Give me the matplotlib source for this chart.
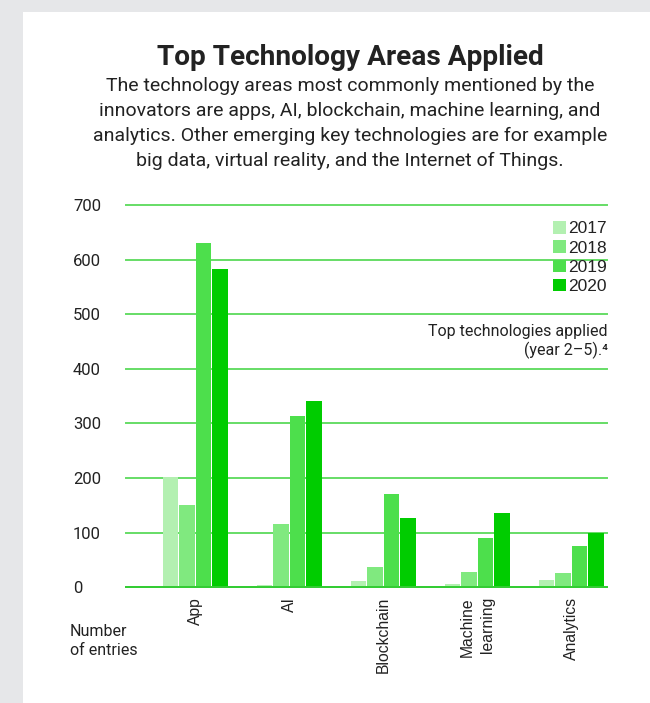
import numpy as np
import matplotlib.pyplot as plt
from matplotlib.patches import Rectangle

plt.rcParams['font.family'] = ['Roboto', 'DejaVu Sans']

categories = ['App', 'AI', 'Blockchain', 'Machine\nlearning', 'Analytics']
years = ['2017', '2018', '2019', '2020']
entries_2017 = [202, 4, 12, 6, 13]
entries_2018 = [150, 115, 37, 28, 26]
entries_2019 = [630, 313, 171, 90, 76]
entries_2020 = [582, 342, 126, 136, 99]
series = [entries_2017, entries_2018, entries_2019, entries_2020]
colors = ['#b3f0b1', '#80e97f', '#4ddf4c', '#00cc00']

title = 'Top Technology Areas Applied'
subtitle = ['The technology areas most commonly mentioned by the',
            'innovators are apps, AI, blockchain, machine learning, and',
            'analytics. Other emerging key technologies are for example',
            'big data, virtual reality, and the Internet of Things.']
note = ['Top technologies applied', '(year 2\u20135).\u2074']

W, H = 650, 703
fig = plt.figure(figsize=(W / 100, H / 100), dpi=100)
fig.patch.set_facecolor('#e6e7e9')
# white card behind everything
fig.patches.append(Rectangle((23 / W, 0), 1, (H - 12) / H, transform=fig.transFigure,
                             facecolor='white', edgecolor='none', zorder=-5))

txt = '#222222'
fig.text(350 / W, 1 - 65 / H, title, ha='center', va='baseline',
         fontsize=20.2, fontweight='bold', color=txt)
for i, line in enumerate(subtitle):
    fig.text(350 / W, 1 - (91 + 25 * i) / H, line, ha='center', va='baseline',
             fontsize=14.0, color=txt)

ax = fig.add_axes([126 / W, 115.7 / H, 481 / W, 382.3 / H])
ax.set_facecolor('white')
x = np.arange(len(categories))
step, width = 0.1766, 0.163
for i, (vals, c, yr) in enumerate(zip(series, colors, years)):
    ax.bar(x + (i - 1.5) * step, vals, width=width, color=c, label=yr, zorder=2)

ax.set_xlim(-0.736, 4.381)
ax.set_ylim(0, 700)
ax.set_yticks(range(0, 701, 100))
ax.grid(axis='y', color='#66dd66', linewidth=1.4)
ax.set_axisbelow(True)
for gl in ax.get_ygridlines():
    gl.set_clip_on(False)
for s in ['top', 'right', 'left']:
    ax.spines[s].set_visible(False)
ax.spines['bottom'].set_color('#33cc33')
ax.spines['bottom'].set_linewidth(1.4)

ax.tick_params(axis='y', length=0, pad=38.2, labelsize=12, labelcolor=txt)
for lab in ax.get_yticklabels():
    lab.set_ha('left')
ax.set_xticks(x, categories, rotation=90, va='top', ha='center')
ax.tick_params(axis='x', length=0, pad=7, labelsize=11.3, labelcolor=txt)
for lab in ax.get_xticklabels():
    lab.set_multialignment('right')
    lab.set_family('Liberation Sans')
    lab.set_linespacing(1.4)

leg = ax.legend(loc='upper right', bbox_to_anchor=(1.0, 0.958), frameon=False,
                prop={'family': 'Liberation Sans', 'size': 12.5},
                handlelength=0.73, handleheight=0.73, handletextpad=0.12,
                labelspacing=0.23, borderpad=0, borderaxespad=0, labelcolor=txt)

fig.text(608 / W, 1 - 336 / H, note[0], ha='right', va='baseline', fontsize=11.5, color=txt)
fig.text(608 / W, 1 - 355 / H, note[1], ha='right', va='baseline', fontsize=11.5, color=txt)

fig.text(70 / W, 1 - 636 / H, 'Number', ha='left', va='baseline', fontsize=11.5, color=txt)
fig.text(70 / W, 1 - 655 / H, 'of entries', ha='left', va='baseline', fontsize=11.5, color=txt)

fig.savefig('out.png', dpi=100, facecolor=fig.get_facecolor())
